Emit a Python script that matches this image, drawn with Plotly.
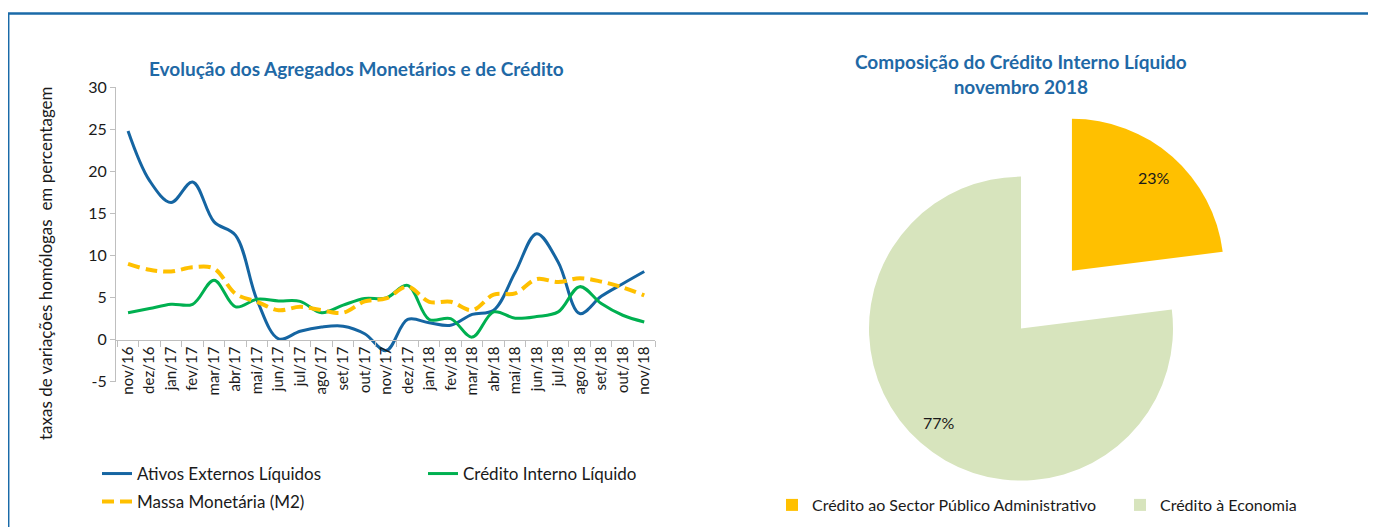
import math
import plotly.graph_objects as go

# ---------------- data ----------------
months = ["nov/16", "dez/16", "jan/17", "fev/17", "mar/17", "abr/17", "mai/17", "jun/17",
          "jul/17", "ago/17", "set/17", "out/17", "nov/17", "dez/17", "jan/18", "fev/18",
          "mar/18", "abr/18", "mai/18", "jun/18", "jul/18", "ago/18", "set/18", "out/18", "nov/18"]

ativos_externos = [24.8, 18.9, 16.3, 18.75, 14.0, 12.4, 4.7, 0.1, 1.0, 1.5, 1.6, 0.7, -1.3,
                   2.4, 2.0, 1.7, 3.0, 3.5, 8.0, 12.6, 9.2, 3.1, 5.15, 6.65, 8.1]
credito_interno = [3.2, 3.7, 4.2, 4.2, 7.05, 3.9, 4.8, 4.6, 4.55, 3.2, 4.1, 4.9, 4.95,
                   6.45, 2.4, 2.5, 0.3, 3.3, 2.55, 2.75, 3.3, 6.3, 4.3, 2.9, 2.1]
massa_monetaria = [9.0, 8.3, 8.1, 8.6, 8.45, 5.45, 4.5, 3.5, 3.9, 3.5, 3.2, 4.55, 4.9,
                   6.3, 4.5, 4.5, 3.5, 5.35, 5.5, 7.2, 6.85, 7.3, 6.9, 6.2, 5.25]

series_names = ["Ativos Externos Líquidos", "Crédito Interno Líquido", "Massa Monetária (M2)"]

pie_labels = ["Crédito ao Sector Público Administrativo", "Crédito à Economia"]
pie_values = [23, 77]

y_ticks = [-5, 0, 5, 10, 15, 20, 25, 30]
y_ticktext = [str(v) for v in y_ticks]

# ---------------- styling / layout constants ----------------
# the page body has an 8px margin, so the figure is 8px smaller and all
# reference pixel positions are shifted by 8px
OX, OY = 8, 8
W, H = 1376 - OX, 527 - OY
FONT = "Lato"
TXT = "#1a1a1a"
TITLE_BLUE = "#1f69a6"
AXIS_GREY = "#bfbfbf"
C_BLUE, C_GREEN, C_YELLOW = "#1565a2", "#00b050", "#ffc000"
PIE_YELLOW, PIE_GREEN = "#ffc000", "#d7e4bd"
CLEAR = "rgba(0,0,0,0)"


def px_x(x):
    return (x - OX) / W


def px_y(y):
    return (H - (y - OY)) / H


# line chart plot area in (reference) pixels
PL, PR, PT, PB = 116, 655, 87.3, 381.7
YMIN, YMAX = -5, 30
xdom = [px_x(PL), px_x(PR)]
ydom = [px_y(PB), px_y(PT)]
zero_pos = ydom[0] + (0 - YMIN) / (YMAX - YMIN) * (ydom[1] - ydom[0])

fig = go.Figure()

fig.add_trace(go.Scatter(x=months, y=ativos_externos, name=series_names[0], mode="lines",
                         line=dict(color=C_BLUE, width=3, shape="spline", smoothing=1),
                         legend="legend"))
fig.add_trace(go.Scatter(x=months, y=credito_interno, name=series_names[1], mode="lines",
                         line=dict(color=C_GREEN, width=3, shape="spline", smoothing=1),
                         legend="legend4"))
fig.add_trace(go.Scatter(x=months, y=massa_monetaria, name=series_names[2], mode="lines",
                         line=dict(color=C_YELLOW, width=4, shape="spline", smoothing=1,
                                   dash="12px,6px"),
                         legend="legend3"))

# ---------------- pie (exploded slice drawn as a second, offset pie) ----------------
PIE_CX, PIE_CY, PIE_R = 1021, 328.6, 152
EXPLODE = 77
LABEL_R = 0.82
total = sum(pie_values)
fracs = [v / total for v in pie_values]
bis0 = math.radians(fracs[0] * 360 / 2)
bis1 = math.radians((fracs[0] + fracs[1] / 2) * 360)
off_x, off_y = EXPLODE * math.sin(bis0), -EXPLODE * math.cos(bis0)
centers = [(PIE_CX + off_x, PIE_CY + off_y), (PIE_CX, PIE_CY)]
bisectors = [bis0, bis1]


def dom(cx, cy, r):
    return dict(x=[px_x(cx - r), px_x(cx + r)], y=[px_y(cy + r), px_y(cy - r)])


# legend-only pies (zero size), one per legend entry
pie_colors = [PIE_YELLOW, PIE_GREEN]
for i, lg in enumerate(["legend2", "legend5"]):
    fig.add_trace(go.Pie(labels=[pie_labels[i]], values=[pie_values[i]], sort=False,
                         marker=dict(colors=[pie_colors[i]]), textinfo="none",
                         domain=dict(x=[0, 0.0005], y=[0, 0.0005]), hoverinfo="skip",
                         legend=lg, showlegend=True))
# main body (green slice) and exploded slice (yellow)
for i in (1, 0):
    cols = [CLEAR, CLEAR]
    cols[i] = pie_colors[i]
    cx, cy = centers[i]
    fig.add_trace(go.Pie(labels=pie_labels, values=pie_values, sort=False,
                         direction="clockwise", marker=dict(colors=cols), textinfo="none",
                         domain=dom(cx, cy, PIE_R), showlegend=False))

pct_annotations = []
for i in range(2):
    cx, cy = centers[i]
    lx = cx + LABEL_R * PIE_R * math.sin(bisectors[i])
    ly = cy - LABEL_R * PIE_R * math.cos(bisectors[i])
    pct_annotations.append(dict(text=f"{fracs[i] * 100:.0f}%", x=px_x(lx), y=px_y(ly),
                                xref="paper", yref="paper", showarrow=False,
                                xanchor="center", yanchor="middle",
                                font=dict(size=16, color=TXT, family=FONT)))


def leg(x, y, size):
    return dict(orientation="h", x=px_x(x), y=px_y(y), xanchor="left", yanchor="middle",
                font=dict(size=size, color=TXT, family=FONT), bgcolor="rgba(0,0,0,0)",
                borderwidth=0)


fig.update_layout(
    template="none",
    width=W, height=H,
    margin=dict(l=0, r=0, t=0, b=0, pad=0, autoexpand=False),
    paper_bgcolor="white", plot_bgcolor="white",
    font=dict(family=FONT, color=TXT, size=15),
    xaxis=dict(type="category", domain=xdom, range=[-0.56, 24.5], anchor="free",
               position=zero_pos, showline=True, linecolor=AXIS_GREY, linewidth=1,
               ticks="outside", tickson="boundaries", ticklen=6, tickcolor=AXIS_GREY,
               tickangle=-90, tickfont=dict(size=15, color=TXT), showgrid=False,
               zeroline=False, fixedrange=True, automargin=False),
    yaxis=dict(domain=ydom, range=[YMIN, YMAX], tickvals=y_ticks, ticktext=y_ticktext,
               anchor="x", showline=True, linecolor=AXIS_GREY, linewidth=1, ticks="outside",
               ticklen=5, tickcolor=AXIS_GREY, tickfont=dict(size=16, color=TXT),
               showgrid=False, zeroline=False, fixedrange=True, automargin=False),
    legend=leg(97, 474, 17),
    legend4=leg(423, 474, 17),
    legend3=leg(97, 502, 17),
    legend2=leg(772, 505, 16),
    legend5=leg(1120, 505, 16),
    annotations=[
        dict(text="Evolução dos Agregados Monetários e de Crédito", x=px_x(357), y=px_y(68),
             xref="paper", yref="paper", showarrow=False, xanchor="center", yanchor="middle",
             font=dict(size=19, color=TITLE_BLUE, family=FONT, weight="bold")),
        dict(text="Composição do Crédito Interno Líquido<br>novembro 2018", x=px_x(1021),
             y=px_y(73.5), xref="paper", yref="paper", showarrow=False, xanchor="center",
             yanchor="middle", align="center",
             font=dict(size=19, color=TITLE_BLUE, family=FONT, weight="bold")),
        dict(text="taxas de variações homólogas  em percentagem", x=px_x(45), y=px_y(263),
             xref="paper", yref="paper", showarrow=False, textangle=-90, xanchor="center",
             yanchor="middle", font=dict(size=17, color=TXT, family=FONT)),
    ] + pct_annotations,
    shapes=[
        dict(type="line", xref="paper", yref="paper", x0=px_x(8), x1=1, y0=px_y(13.5),
             y1=px_y(13.5), line=dict(color="#1a6aa8", width=2.5)),
        dict(type="line", xref="paper", yref="paper", x0=px_x(8.7), x1=px_x(8.7),
             y0=px_y(13.5), y1=0, line=dict(color="#1a6aa8", width=1.5)),
    ],
)

fig.write_html("out.html")
